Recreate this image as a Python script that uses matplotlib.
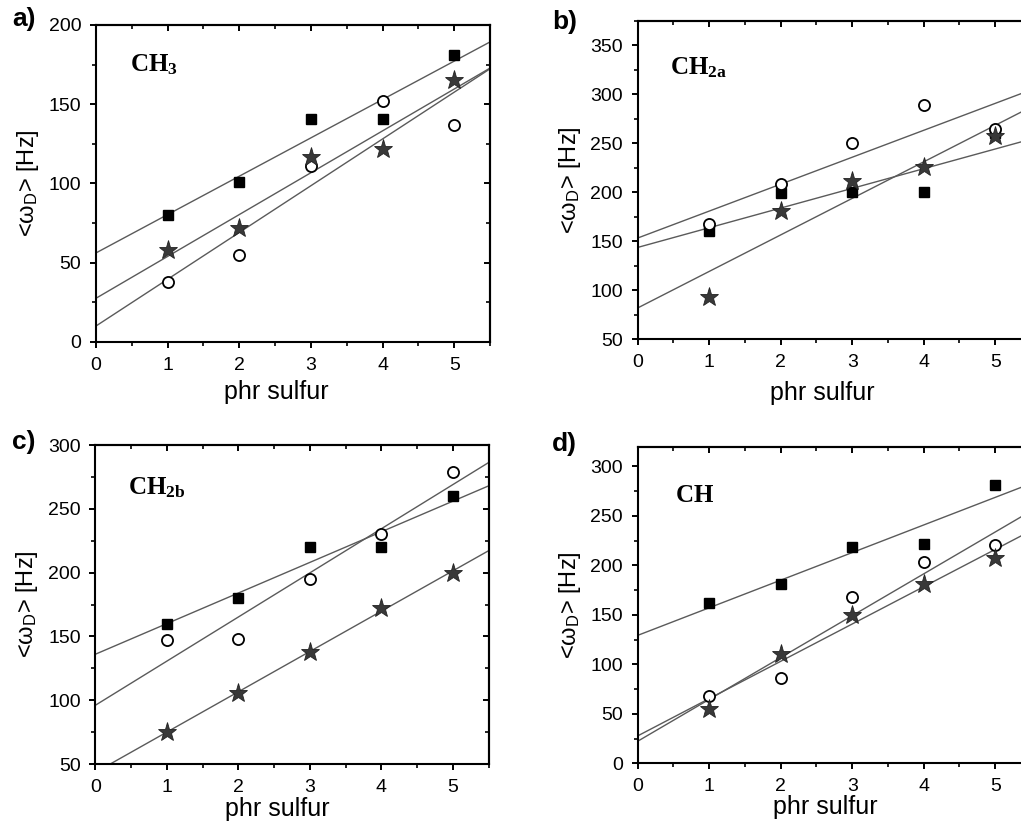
import numpy as np
import matplotlib
matplotlib.use("Agg")
import matplotlib.pyplot as plt
from matplotlib.ticker import MultipleLocator

plt.rcParams['font.family'] = ['Liberation Sans', 'DejaVu Sans']
plt.rcParams['mathtext.fontset'] = 'custom'
plt.rcParams['mathtext.rm'] = 'Liberation Sans'
plt.rcParams['mathtext.it'] = 'Liberation Sans'
plt.rcParams['mathtext.bf'] = 'Liberation Serif:bold'

# ---------------- data ----------------
phr = [1, 2, 3, 4, 5]

ch3_square = [80, 101, 141, 141, 181]
ch3_circle = [38, 55, 111, 152, 137]
ch3_star = [58, 72, 117, 122, 165]

ch2a_square = [160, 199, 200, 200, 260]
ch2a_circle = [167, 208, 250, 289, 264]
ch2a_star = [93, 181, 211, 226, 257]

ch2b_square = [160, 180, 220, 220, 260]
ch2b_circle = [147, 148, 195, 230, 279]
ch2b_star = [75, 106, 138, 172, 200]

ch_square = [162, 181, 219, 222, 281]
ch_circle = [68, 86, 168, 203, 221]
ch_star = [55, 110, 150, 181, 208]

panel_letters = ['a)', 'b)', 'c)', 'd)']
group_labels = [r'$\mathbf{CH_3}$', r'$\mathbf{CH_{2a}}$', r'$\mathbf{CH_{2b}}$', r'$\mathbf{CH}$']
ylims = [(0, 200), (50, 375), (50, 300), (0, 320)]
yticks = [[0, 50, 100, 150, 200],
          [50, 100, 150, 200, 250, 300, 350],
          [50, 100, 150, 200, 250, 300],
          [0, 50, 100, 150, 200, 250, 300]]
xticks = [0, 1, 2, 3, 4, 5]

series = [
    (ch3_square, ch3_circle, ch3_star),
    (ch2a_square, ch2a_circle, ch2a_star),
    (ch2b_square, ch2b_circle, ch2b_star),
    (ch_square, ch_circle, ch_star),
]

# ---------------- layout ----------------
W, H = 1021, 821
fig = plt.figure(figsize=(W / 100, H / 100), dpi=100)

# axes boxes in pixels: left, top, right, bottom
boxes = [
    (96, 25, 490, 342),
    (637.7, 20.7, 1031, 339),
    (95.3, 445, 488.7, 764),
    (637.7, 446.7, 1031, 763.3),
]
letter_pos = [(12, 19), (552, 22), (12, 442), (552, 444)]
label_xy = [(0.086, 0.874), (0.082, 0.851), (0.083, 0.865), (0.095, 0.848)]
xlabel_xy = [(0.457, -0.158), (0.47, -0.17), (0.462, -0.142), (0.477, -0.138)]

line_col = '#5a5a5a'
star_col = '#383838'

for i, (sq, ci, st) in enumerate(series):
    l, t, r, b = boxes[i]
    ax = fig.add_axes([l / W, 1 - b / H, (r - l) / W, (b - t) / H])
    ax.set_xlim(0, 5.5)
    ax.set_ylim(*ylims[i])

    xfit = np.array([0, 5.5])
    for vals in (sq, ci, st):
        k, c0 = np.polyfit(phr, vals, 1)
        ax.plot(xfit, k * xfit + c0, color=line_col, lw=1.0, zorder=2)

    ax.plot(phr, sq, ls='none', marker='s', ms=7.3, mfc='black', mec='black', zorder=3)
    ax.plot(phr, ci, ls='none', marker='o', ms=8, mfc='white', mec='black', mew=1.3, zorder=3)
    ax.plot(phr, st, ls='none', marker='*', ms=14, mfc=star_col, mec='#222222', mew=0.6, zorder=4)

    ax.set_xticks(xticks)
    ax.set_yticks(yticks[i])
    ax.xaxis.set_minor_locator(MultipleLocator(0.5))
    ax.yaxis.set_minor_locator(MultipleLocator(25))
    ax.tick_params(which='major', direction='out', length=4.5, width=1.4,
                   labelsize=14, pad=6, top=False, right=False)
    ax.tick_params(which='minor', direction='out', length=3, width=1.2,
                   top=False, right=False)
    for s in ax.spines.values():
        s.set_linewidth(1.5)

    sx = ax.secondary_xaxis('top')
    sx.set_xticks(xticks)
    sx.xaxis.set_minor_locator(MultipleLocator(0.5))
    sx.tick_params(which='major', direction='in', length=4.5, width=1.4, labeltop=False)
    sx.tick_params(which='minor', direction='in', length=3, width=1.2)
    sx.spines['top'].set_linewidth(1.5)

    sy = ax.secondary_yaxis('right')
    sy.set_yticks(yticks[i])
    sy.yaxis.set_minor_locator(MultipleLocator(25))
    sy.tick_params(which='major', direction='in', length=4.5, width=1.4, labelright=False)
    sy.tick_params(which='minor', direction='in', length=3, width=1.2)
    sy.spines['right'].set_linewidth(1.5)

    ax.set_xlabel('phr sulfur', fontsize=18)
    ax.xaxis.set_label_coords(*xlabel_xy[i])
    ax.xaxis.label.set_verticalalignment('center')
    ax.set_ylabel(r'<$\mathrm{\omega_D}$> [Hz]', fontsize=17)
    ax.yaxis.set_label_coords(-0.173, 0.5)
    ax.yaxis.label.set_verticalalignment('center')

    ax.text(label_xy[i][0], label_xy[i][1], group_labels[i], transform=ax.transAxes,
            fontsize=18, ha='left', va='center')

    lx, ly = letter_pos[i]
    fig.text(lx / W, 1 - ly / H, panel_letters[i], fontsize=19, fontweight='bold',
             ha='left', va='center')

fig.savefig('out.png', dpi=100)
